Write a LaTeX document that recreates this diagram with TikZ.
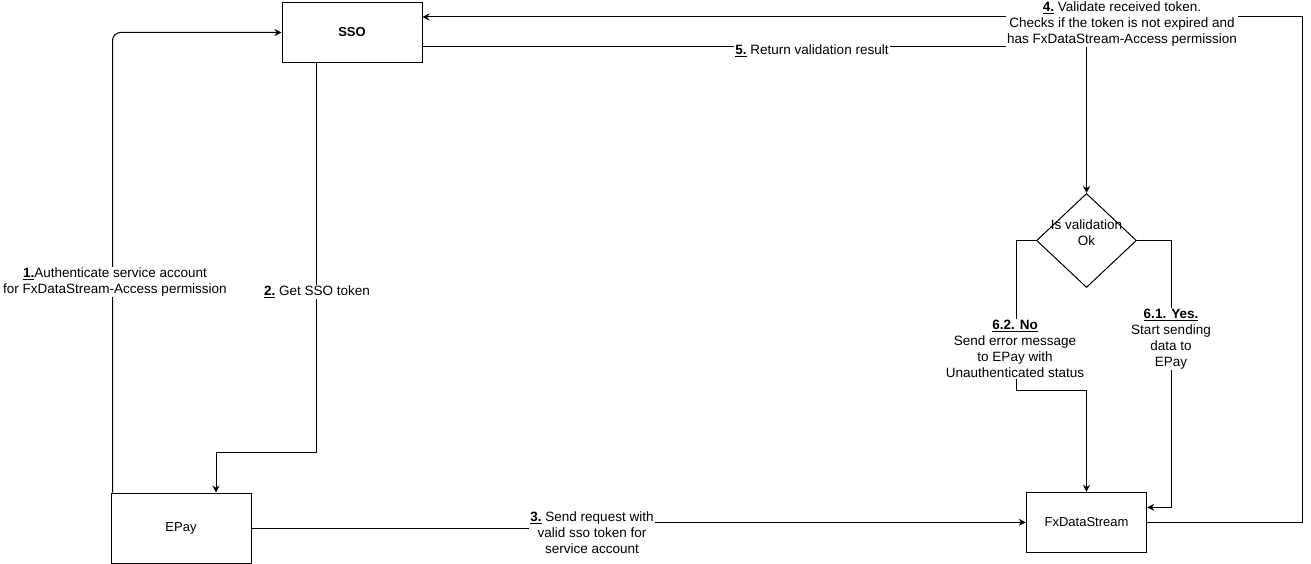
\documentclass[tikz,border=0pt]{standalone}
\usepackage{fontspec}
\setmainfont{Liberation Sans}
\usetikzlibrary{shapes.geometric,arrows.meta}
\begin{document}
\begin{tikzpicture}[x=1pt,y=-1pt,
  box/.style={draw,line width=1pt,rectangle,inner sep=0pt,font=\fontsize{13}{15}\selectfont},
  arr/.style={draw,line width=1pt,-{Stealth[length=7pt,width=7pt]}},
  lbl/.style={fill=white,inner sep=1pt,align=center,font=\fontsize{13.5}{16}\selectfont}]
\useasboundingbox (0,0) rectangle (1311,564);
\node[box,minimum width=140pt,minimum height=59.5pt] (sso) at (352,32.5) {\textbf{SSO}};
\node[box,minimum width=140pt,minimum height=70pt] (epay) at (181,528) {EPay};
\node[box,minimum width=120.5pt,minimum height=60pt] (fx) at (1086.5,522.3) {FxDataStream};
\node[diamond,draw,line width=1pt,minimum width=100pt,minimum height=94pt,inner sep=0pt] (dia) at (1086.5,240.5) {};
\node[align=center,inner sep=0pt,font=\fontsize{13.5}{16}\selectfont] (dialbl) at (1086.5,233) {Is validation\\Ok};
\coordinate (c2) at (316,452.7);
\coordinate (c3a) at (594,528);
\coordinate (c3b) at (594,522.3);
\coordinate (c4) at (1302,17);
\coordinate (c6) at (1016.7,390.7);
\coordinate (c7) at (1171.5,507.3);
% edges
\draw[arr,rounded corners=8pt] ([xshift=2pt]epay.north west) |- (sso.west);
\draw[arr] ([xshift=-36pt]sso.south) -- (c2) -| ([xshift=35pt]epay.north);
\draw[arr] (epay.east) -- (c3a) -- (c3b) -- (fx.west);
\draw[arr] (fx.east) -| (c4) -- ([yshift=15.5pt]sso.east);
\draw[arr] ([yshift=-14.5pt]sso.east) -| (dia.north);
\draw[arr] (dia.west) -| (c6) -| (fx.north);
\draw[arr] (dia.east) -| (c7) -- ([yshift=15pt]fx.east);
% labels
\node[lbl] (l1) at (115,282) {\underline{\textbf{1.}}Authenticate service account\\for FxDataStream-Access permission};
\node[lbl] (l2) at (317,292) {\underline{\textbf{2.}} Get SSO token};
\node[lbl] (l3) at (592,533) {\underline{\textbf{3.}} Send request with\\valid sso token for\\service account};
\node[lbl] (l4) at (1122,24) {\underline{\textbf{4.}} Validate received token.\\Checks if the token is not expired and\\has FxDataStream-Access permission};
\node[lbl] (l5) at (812,51) {\underline{\textbf{5.}} Return validation result};
\node[lbl] (l62) at (1015,349) {\underline{\textbf{6.2. No}}\\Send error message\\to EPay with\\Unauthenticated status};
\node[lbl] (l61) at (1171,339) {\underline{\textbf{6.1. Yes.}}\\Start sending\\data to\\EPay};
\end{tikzpicture}
\end{document}
